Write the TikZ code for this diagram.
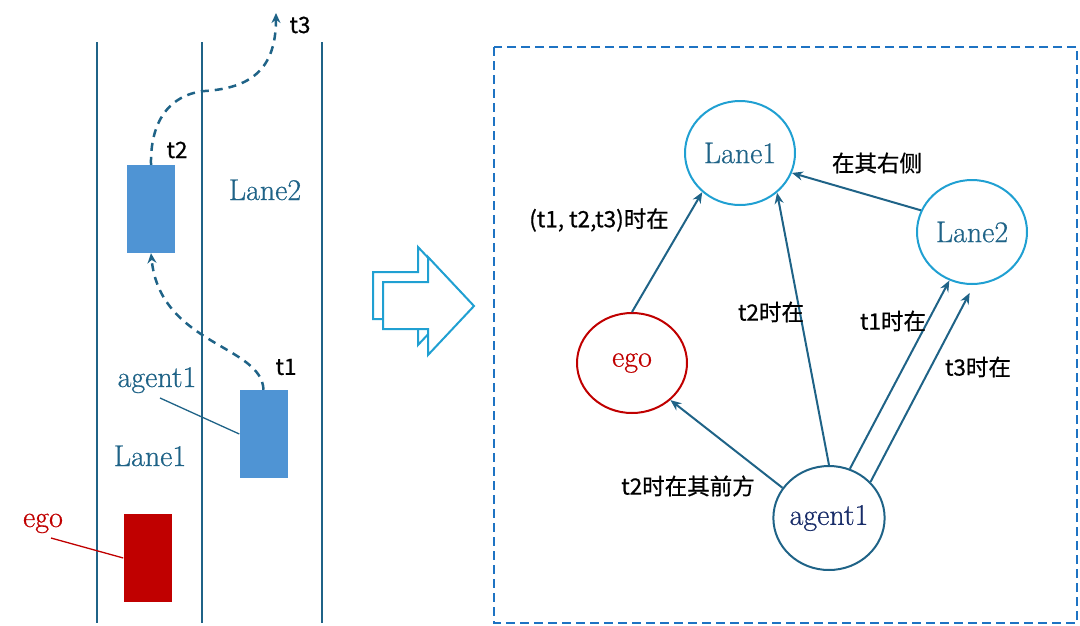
\documentclass[tikz,border=0pt]{standalone}
\usepackage{fontspec}
\setmainfont{Latin Modern Roman}[FakeBold=0.6]
\newfontfamily\cjk[FakeBold=0.7]{Noto Sans CJK SC}
\usetikzlibrary{arrows.meta,shapes.geometric}
\definecolor{teal1}{RGB}{31,99,135}
\definecolor{carblue}{RGB}{79,148,212}
\definecolor{egored}{RGB}{192,0,0}
\definecolor{cyan1}{RGB}{32,160,210}
\definecolor{boxblue}{RGB}{30,115,195}
\definecolor{navy1}{RGB}{25,45,105}
\begin{document}
\begin{tikzpicture}[x=1pt,y=-1pt,
 lane/.style={draw=teal1,line width=2pt},
 car/.style={draw=none,inner sep=0,minimum width=48pt,minimum height=88pt},
 serif/.style={font=\fontsize{30}{32}\selectfont,inner sep=0},
 lbl/.style={font=\cjk\fontsize{22.5}{24}\selectfont,text=black,inner sep=1pt},
 gnode/.style={ellipse,line width=2pt,minimum width=110pt,minimum height=104pt,inner sep=0,font=\fontsize{30}{32}\selectfont},
 rel/.style={draw=teal1,line width=2pt,-{Stealth[length=11pt,width=9pt]}},
 traj/.style={draw=teal1,line width=2.5pt,dash pattern=on 8pt off 6pt,-{Stealth[length=10pt,width=9pt]}},
 hollow/.style={draw=cyan1,line width=2pt,fill=white,line join=miter}
]
\useasboundingbox (0,0) rectangle (1080,625);

% ---------- left: lanes ----------
\draw[lane] (97,42) -- (97,623);
\draw[lane] (202,42) -- (202,623);
\draw[lane] (322,42) -- (322,623);

\node[car,fill=carblue] (a2) at (151,209) {};
\node[car,fill=carblue] (a1) at (263.5,434) {};
\node[car,fill=egored] (egocar) at (147.5,558) {};

\node[serif,text=teal1,anchor=base] (lane2txt) at (265,200) {Lane2};
\node[serif,text=teal1,anchor=base] (lane1txt) at (150,466) {Lane1};
\node[serif,text=teal1,anchor=base] (agenttxt) at (157,387) {agent1};
\node[serif,text=egored,anchor=base] (egotxt) at (43,527) {ego};

\coordinate (alp) at (160,398);
\coordinate (elp) at (51,538);
\draw[teal1,line width=1.3pt] (alp) -- (a1.west);
\draw[egored,line width=1.3pt] (elp) -- (egocar.west);

\coordinate (t3p) at (276,13);
\draw[traj] (a1.north) .. controls (262,345) and (160,345) .. (a2.south);
\draw[traj] (a2.north) .. controls (150,110) and (180,93) .. (205,91) .. controls (250,88) and (276,70) .. (t3p);

\node[lbl] (t1) at (286,367) {t1};
\node[lbl] (t2) at (177,150) {t2};
\node[lbl] (t3) at (300,25) {t3};

% ---------- hollow arrow ----------
\draw[hollow] (373,272) -- (418,272) -- (418,247) -- (464,296) -- (418,345) -- (418,319) -- (373,319) -- cycle;
\draw[hollow] (383,282) -- (428,282) -- (428,257) -- (474,306) -- (428,355) -- (428,329) -- (383,329) -- cycle;

% ---------- right: graph ----------
\draw[boxblue,line width=2pt,dash pattern=on 9pt off 5pt] (494,47) rectangle (1077,623);

\node[gnode,draw=cyan1,text=teal1] (L1) at (740,153) {Lane1};
\node[gnode,draw=cyan1,text=teal1] (L2) at (972,232) {Lane2};
\node[gnode,draw=egored,text=egored,minimum height=100pt] (E) at (632,363) {ego};
\node[gnode,draw=teal1,text=navy1] (A) at (829,518) {agent1};

\draw[rel] (E.90) -- (L1.226);
\draw[rel] (A.90) -- (L1.313);
\draw[rel] (L2.157) -- (L1.339);
\draw[rel] (A.67) -- (L2.245);
\draw[rel,shorten >=9pt] (A.41) -- (L2.272);
\draw[rel] (A.147) -- (E.316);

\node[lbl] (l1) at (599,220) {(t1, t2,t3)时在};
\node[lbl] (l2) at (771,312) {t2时在};
\node[lbl] (l3) at (877,163) {在其右侧};
\node[lbl] (l4) at (893,321) {t1时在};
\node[lbl] (l5) at (978,367) {t3时在};
\node[lbl] (l6) at (688,486) {t2时在其前方};
\end{tikzpicture}
\end{document}
